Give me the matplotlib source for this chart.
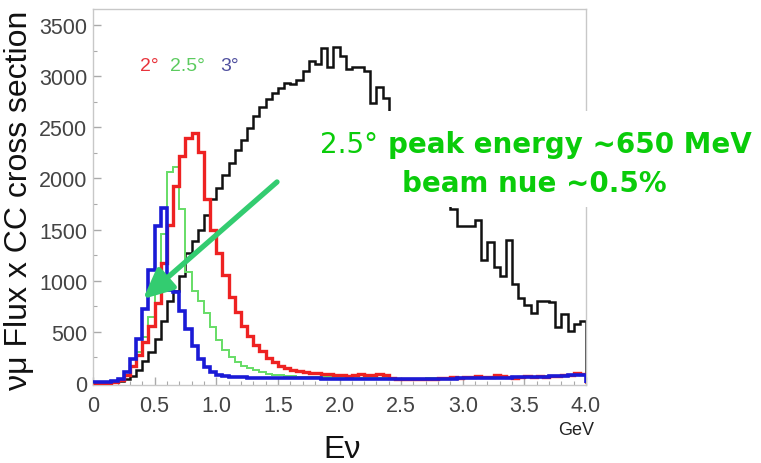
import numpy as np
import matplotlib
matplotlib.use("Agg")
import matplotlib.pyplot as plt
from matplotlib.patches import Rectangle
from matplotlib.ticker import MultipleLocator, FixedLocator, FixedFormatter

# ---- data: 80 bins of 0.05 GeV from 0 to 4 GeV ----
bin_edges = np.round(np.arange(0, 4.0001, 0.05), 3)

flux_onaxis = [0, 0, 2, 5, 15, 35, 70, 130, 210, 300,
               430, 610, 800, 900, 1050, 1270, 1390, 1500, 1640, 1800,
               1910, 2030, 2150, 2280, 2380, 2490, 2610, 2700, 2780, 2830,
               2880, 2930, 2920, 2960, 3050, 3150, 3120, 3270, 3090, 3280,
               3200, 3070, 3090, 3090, 3050, 2740, 2890, 2790, 2600, 2520,
               2450, 2380, 2290, 2200, 2110, 2020, 1930, 1820, 1700, 1530,
               1530, 1530, 1590, 1200, 1380, 1130, 1050, 1400, 970, 830,
               760, 680, 800, 800, 790, 550, 670, 510, 580, 610]

flux_2deg = [0, 0, 3, 10, 30, 80, 170, 270, 400, 560,
             780, 1170, 1540, 1930, 2220, 2390, 2440, 2260, 1800, 1500,
             1270, 1060, 840, 690, 560, 460, 370, 310, 240, 205,
             165, 150, 125, 118, 108, 100, 95, 90, 85, 82,
             78, 72, 82, 85, 82, 80, 84, 80, 45, 40,
             38, 35, 40, 38, 35, 40, 45, 50, 55, 50,
             60, 55, 70, 60, 55, 75, 65, 55, 50, 55,
             70, 60, 65, 60, 70, 65, 75, 80, 95, 85]

flux_25deg = [0, 0, 3, 8, 25, 75, 170, 300, 450, 640,
              930, 1460, 2060, 2115, 1700, 1085, 900, 800, 680, 545,
              420, 325, 250, 205, 170, 145, 125, 105, 92, 82,
              75, 70, 66, 62, 60, 58, 56, 55, 54, 52,
              50, 50, 48, 48, 46, 45, 45, 44, 44, 43,
              42, 42, 42, 43, 44, 45, 45, 46, 47, 48,
              48, 50, 50, 52, 52, 54, 55, 56, 58, 60,
              60, 62, 63, 65, 66, 68, 70, 72, 75, 78]

flux_3deg = [5, 5, 8, 15, 40, 107, 235, 430, 723, 1100,
             1538, 1710, 910, 890, 707, 528, 365, 235, 155, 107,
             82, 70, 62, 58, 55, 52, 50, 50, 48, 48,
             46, 46, 45, 45, 44, 44, 44, 43, 43, 42,
             42, 40, 40, 38, 38, 37, 36, 36, 35, 35,
             36, 36, 37, 38, 38, 40, 40, 42, 42, 44,
             44, 45, 46, 48, 48, 50, 50, 52, 54, 55,
             56, 58, 60, 62, 64, 66, 70, 75, 82, 78]

x_ticks = [0, 0.5, 1.0, 1.5, 2.0, 2.5, 3.0, 3.5, 4.0]
x_tick_labels = ["0", "0.5", "1.0", "1.5", "2.0", "2.5", "3.0", "3.5", "4.0"]
y_ticks = [0, 500, 1000, 1500, 2000, 2500, 3000, 3500]

W, H = 761, 464
fig = plt.figure(figsize=(W / 100, H / 100), dpi=100)
ax = fig.add_axes([93 / W, 1 - 386 / H, (586 - 93) / W, (386 - 10) / H])

ax.stairs(flux_onaxis, bin_edges, color="#111111", lw=1.8, zorder=2)
ax.stairs(flux_25deg, bin_edges, color="#66DD66", lw=1.4, zorder=3)
ax.stairs(flux_2deg, bin_edges, color="#EE2222", lw=2.4, zorder=4)
ax.stairs(flux_3deg, bin_edges, color="#1A1AD6", lw=2.6, zorder=5)

ax.set_xlim(0, 4.0)
ax.set_ylim(-20, 3656)

ax.xaxis.set_major_locator(FixedLocator(x_ticks))
ax.xaxis.set_major_formatter(FixedFormatter(x_tick_labels))
ax.xaxis.set_minor_locator(MultipleLocator(0.1))
ax.yaxis.set_major_locator(FixedLocator(y_ticks))
ax.yaxis.set_minor_locator(MultipleLocator(250))
for lab in ax.get_xticklabels() + ax.get_yticklabels():
    lab.set_fontfamily("Liberation Sans")
    lab.set_fontsize(15.5)
    lab.set_color("#444444")
ax.tick_params(axis="both", which="both", direction="in", colors="#AAAAAA",
               labelcolor="#444444", top=False, right=False)
ax.tick_params(axis="both", which="major", length=6, width=1)
ax.tick_params(axis="both", which="minor", length=3, width=0.8)
ax.tick_params(axis="x", which="major", pad=7)
ax.tick_params(axis="y", which="major", pad=4)
for s in ax.spines.values():
    s.set_color("#C8C8C8")
    s.set_linewidth(1.0)

# axis titles
fig.text(19 / W, 1 - 200 / H, "νμ Flux x CC cross section", rotation=90,
         ha="center", va="center", family="Liberation Sans", size=23, color="#111111")
fig.text(342 / W, 1 - 458 / H, "Eν", ha="center", va="baseline",
         family="Liberation Sans", size=23, color="#111111")
fig.text(576 / W, 1 - 435 / H, "GeV", ha="center", va="baseline",
         family="Liberation Sans", size=13, color="#222222")

# angle legend
leg_font = dict(family="Liberation Sans", size=14, va="baseline", ha="left")
fig.text(140 / W, 1 - 71 / H, "2°", color="#E8343C", **leg_font)
fig.text(170 / W, 1 - 71 / H, "2.5°", color="#5CCB5F", **leg_font)
fig.text(220 / W, 1 - 71 / H, "3°", color="#50509F", **leg_font)

# white annotation box covering part of the plot
fig.add_artist(Rectangle((300 / W, 1 - 208 / H), (W - 300) / W, 96 / H,
                         transform=fig.transFigure, facecolor="white",
                         edgecolor="none", zorder=10))
green = "#0ACC0A"
fig.text(320 / W, 1 - 153 / H, "2.5°", ha="left", va="baseline", color=green,
         family="DejaVu Sans", size=20, zorder=11)
fig.text(752 / W, 1 - 153 / H, "peak energy ~650 MeV", ha="right", va="baseline",
         color=green, family="DejaVu Sans", weight="bold", size=20, zorder=11)
fig.text(534 / W, 1 - 192 / H, "beam nue ~0.5%", ha="center", va="baseline",
         color=green, family="DejaVu Sans", weight="bold", size=20, zorder=11)

# arrow
ax.annotate("", xy=(0.406, 821), xytext=(1.493, 1965), xycoords="data",
            arrowprops=dict(arrowstyle="-|>,head_length=0.9,head_width=0.42",
                            lw=3.8, color="#33CC70", mutation_scale=20,
                            shrinkA=0, shrinkB=0),
            zorder=12, annotation_clip=False)

fig.savefig("out.png", dpi=100)
